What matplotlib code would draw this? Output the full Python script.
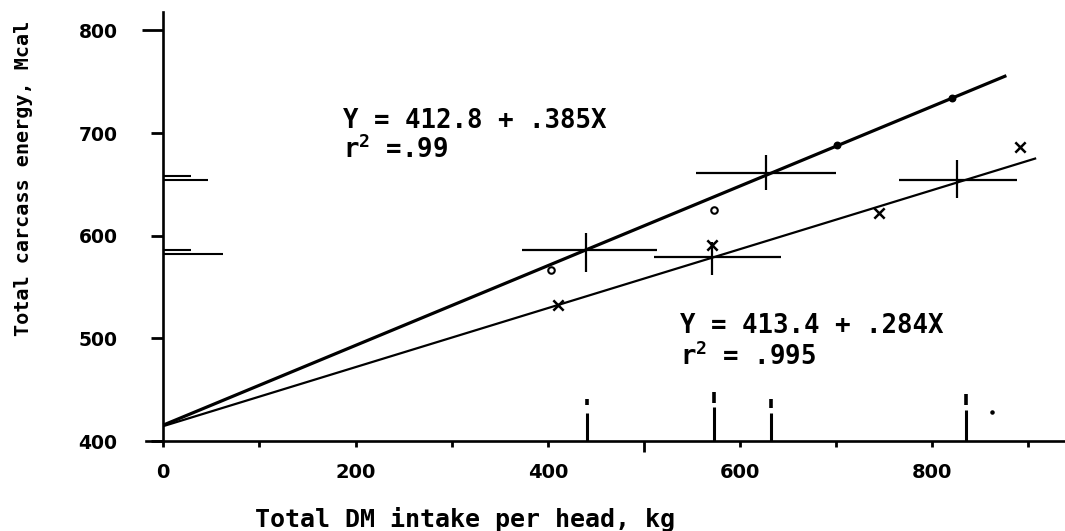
import matplotlib
matplotlib.use("Agg")
import matplotlib.pyplot as plt
import numpy as np

# ---------------- data ----------------
# regression lines as drawn in the picture (x in kg, y in Mcal)
upper_line_x = [0, 877]
upper_line_y = [415.5, 756]
lower_line_x = [0, 908]
lower_line_y = [414.5, 675.5]

# upper group: open circles and filled dots
upper_open_x = [403, 573]
upper_open_y = [567, 625]
upper_dot_x = [701, 820]
upper_dot_y = [688.5, 734]

# lower group: x markers
lower_x = [411, 571, 745, 891]
lower_y = [533, 591, 622, 686]

# mean crosses (centre, horizontal extent, vertical extent)
upper_cross_x = [440, 627]
upper_cross_y = [586, 661]
upper_cross_xlo = [373, 554]
upper_cross_xhi = [514, 700]
upper_cross_ylo = [565, 645]
upper_cross_yhi = [603, 679]

lower_cross_x = [571, 826]
lower_cross_y = [579, 654]
lower_cross_xlo = [510, 765]
lower_cross_xhi = [643, 888]
lower_cross_ylo = [562, 637]
lower_cross_yhi = [594, 674]

# marginal marks on the y axis
yrug_short_y = [658, 586]
yrug_short_len = [29, 29]
yrug_long_y = [654.5, 582]
yrug_long_len = [47, 62]

# marginal marks on the x axis
xrug_x = [441, 573, 632, 835]
xrug_solid_top = [427, 433, 427, 430]
xrug_upper_lo = [435, 437, 432, 435]
xrug_upper_hi = [441, 448, 441, 446]
xrug_dot_x = [862]
xrug_dot_y = [428]

x_major = [0, 200, 400, 600, 800]
x_minor = [100, 300, 500, 700, 900]
y_ticks = [400, 500, 600, 700, 800]

eq_upper = ["Y = 412.8 + .385X", r"r$^2$ =.99"]
eq_lower = ["Y = 413.4 + .284X", r"r$^2$ = .995"]
xlabel = "Total DM intake per head, kg"
ylabel = "Total carcass energy, Mcal"

# ---------------- figure ----------------
plt.rcParams["mathtext.fontset"] = "custom"
plt.rcParams["mathtext.rm"] = "DejaVu Sans Mono:bold"
plt.rcParams["mathtext.it"] = "DejaVu Sans Mono:bold"
plt.rcParams["mathtext.bf"] = "DejaVu Sans Mono:bold"

W, H = 1065, 531
fig = plt.figure(figsize=(W / 100, H / 100), dpi=100)
fig.patch.set_facecolor("white")
ax = fig.add_axes([146 / W, 1 - 441 / H, 919 / W, 429 / H])
ax.set_xlim(-18, 938)
ax.set_ylim(400, 818)

for s in ("top", "right"):
    ax.spines[s].set_visible(False)
ax.spines["left"].set_position(("data", 0))
for s in ("left", "bottom"):
    ax.spines[s].set_linewidth(1.9)
    ax.spines[s].set_color("black")

# regression lines
ax.plot(upper_line_x, upper_line_y, color="black", lw=2.3, solid_capstyle="butt")
ax.plot(lower_line_x, lower_line_y, color="black", lw=1.6, solid_capstyle="butt")

# points
ax.scatter(upper_open_x, upper_open_y, s=22, facecolors="white", edgecolors="black", linewidths=1.5, zorder=3)
ax.scatter(upper_dot_x, upper_dot_y, s=22, color="black", zorder=3)
ax.scatter(lower_x, lower_y, s=55, marker="x", color="black", linewidths=1.8, zorder=3)

# mean crosses
def crosses(cx, cy, xlo, xhi, ylo, yhi):
    cx = np.array(cx, float); cy = np.array(cy, float)
    xerr = [cx - np.array(xlo), np.array(xhi) - cx]
    yerr = [cy - np.array(ylo), np.array(yhi) - cy]
    ax.errorbar(cx, cy, xerr=xerr, yerr=yerr, fmt="none", ecolor="black",
                elinewidth=1.6, capsize=0)

crosses(upper_cross_x, upper_cross_y, upper_cross_xlo, upper_cross_xhi, upper_cross_ylo, upper_cross_yhi)
crosses(lower_cross_x, lower_cross_y, lower_cross_xlo, lower_cross_xhi, lower_cross_ylo, lower_cross_yhi)

# marginal marks on y axis
ax.hlines(yrug_short_y, 0, yrug_short_len, color="black", lw=1.5)
ax.hlines(yrug_long_y, 0, yrug_long_len, color="black", lw=1.5)

# marginal marks on x axis
ax.vlines(xrug_x, 400, xrug_solid_top, color="black", lw=2.2)
ax.vlines(xrug_x, xrug_upper_lo, xrug_upper_hi, color="black", lw=2.6)
ax.scatter(xrug_dot_x, xrug_dot_y, s=5, color="black")

# ticks
ax.set_xticks(x_major)
ax.set_xticks(x_minor, minor=True)
ax.set_yticks(y_ticks)
ax.tick_params(axis="x", which="both", direction="out", length=4, width=2.0, pad=12)
ax.tick_params(axis="y", which="both", direction="out", length=9, width=2.0, pad=24)
minor_ticks = ax.xaxis.get_minor_ticks()
minor_ticks[2].tick1line.set_markersize(8)      # longer mark at 500
major_yticks = ax.yaxis.get_major_ticks()
major_yticks[4].tick1line.set_markersize(15)    # longer mark at 800
for lab in ax.get_xticklabels():
    lab.set_fontfamily("DejaVu Sans"); lab.set_fontweight("bold"); lab.set_fontsize(14)
for lab in ax.get_yticklabels():
    lab.set_fontfamily("DejaVu Sans"); lab.set_fontweight("bold"); lab.set_fontsize(13.5)

# equations
mono = dict(family="DejaVu Sans Mono", weight="bold", fontsize=18.5, color="black",
            ha="left", va="baseline")
ax.text(187, 705, eq_upper[0], **mono)
ax.text(187, 675.5, eq_upper[1], **mono)
ax.text(537, 505, eq_lower[0], **mono)
ax.text(537, 474, eq_lower[1], **mono)

# axis labels
fig.text(255 / W, 1 - 527 / H, xlabel, family="DejaVu Sans Mono", weight="bold",
         fontsize=18, ha="left", va="baseline")
fig.text(24 / W, 1 - 178 / H, ylabel, family="DejaVu Sans Mono", weight="bold",
         fontsize=14.5, rotation=90, ha="center", va="center")

fig.savefig("out.png", dpi=100, facecolor="white")
